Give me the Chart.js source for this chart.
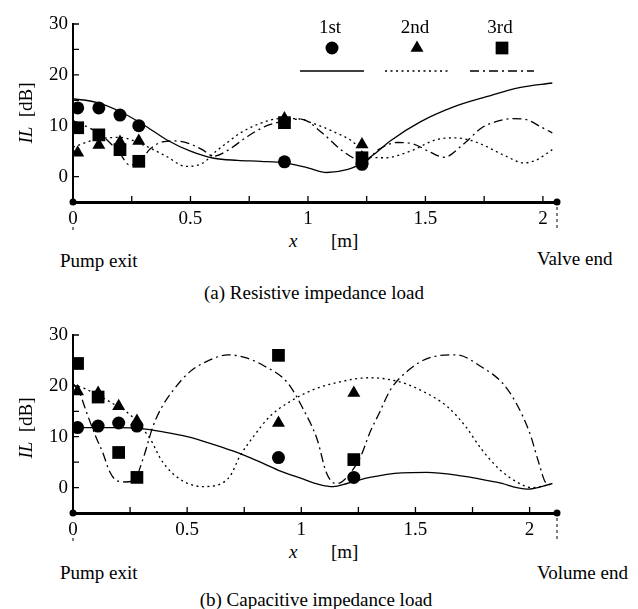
<!DOCTYPE html>
<html>
<head>
<meta charset="utf-8">
<script src="https://cdn.jsdelivr.net/npm/chart.js@4.4.1/dist/chart.umd.min.js"></script>
<style>
body { margin: 0; background: #fff; }
#wrap { position: relative; width: 638px; height: 609px; font-family: 'Liberation Serif', 'Times New Roman', serif; font-size: 19px; color: #000; }
.lab { position: absolute; white-space: nowrap; line-height: 19px; }
.rot { transform: translate(-50%, -50%) rotate(-90deg); }
.mid { transform: translateX(-50%); }
canvas { position: absolute; left: 0; }
</style>
</head>
<body>
<div id="wrap">
<canvas id="chartA" width="638" height="230" style="top:0px"></canvas>
<canvas id="chartB" width="638" height="230" style="top:311px"></canvas>

<div class="lab rot" style="left:25px;top:113px"><i>IL</i>&nbsp;&nbsp;[dB]</div>
<div class="lab" style="left:289px;top:231px"><i>x</i></div>
<div class="lab" style="left:331px;top:231px">[m]</div>
<div class="lab" style="left:60px;top:251px">Pump exit</div>
<div class="lab" style="left:537px;top:249px">Valve end</div>
<div class="lab mid" style="left:314px;top:283px">(a) Resistive impedance load</div>

<div class="lab rot" style="left:25px;top:428px"><i>IL</i>&nbsp;&nbsp;[dB]</div>
<div class="lab" style="left:289px;top:542px"><i>x</i></div>
<div class="lab" style="left:331px;top:542px">[m]</div>
<div class="lab" style="left:60px;top:563px">Pump exit</div>
<div class="lab" style="left:537px;top:563px">Volume end</div>
<div class="lab mid" style="left:316px;top:590px">(b) Capacitive impedance load</div>
</div>

<script>
// measured points (markers), same positions for both loads
var xMeasured = [0.02, 0.11, 0.2, 0.28, 0.9, 1.23];

// (a) resistive impedance load
var resMeas1 = [13.5, 13.5, 12.1, 10.0, 2.9, 2.4];
var resMeas2 = [4.7, 6.2, 6.8, 7.0, 11.4, 6.3];
var resMeas3 = [9.6, 8.2, 5.3, 3.0, 10.6, 3.7];

var resLineX1 = [0, 0.1, 0.2, 0.3, 0.4, 0.5, 0.6, 0.7, 0.8, 0.9, 1.0, 1.08, 1.17, 1.22, 1.29, 1.35, 1.48, 1.62, 1.76, 1.9, 2.04];
var resLine1  = [15.3, 14.6, 12.8, 10.2, 7.2, 5.0, 3.6, 3.2, 3.0, 2.7, 1.7, 0.8, 1.4, 2.4, 4.7, 7.0, 10.8, 13.7, 15.7, 17.5, 18.4];

var resLineX2 = [0, 0.1, 0.2, 0.3, 0.4, 0.48, 0.55, 0.61, 0.66, 0.72, 0.8, 0.88, 0.95, 1.02, 1.12, 1.19, 1.26, 1.33, 1.43, 1.55, 1.63, 1.72, 1.83, 1.92, 1.97, 2.04];
var resLine2  = [5.8, 7.3, 7.7, 6.2, 3.9, 2.0, 2.6, 5.0, 6.8, 8.8, 10.5, 11.4, 11.4, 10.5, 8.6, 6.9, 3.9, 3.7, 4.9, 7.3, 7.6, 6.7, 4.3, 2.7, 3.2, 5.3];

var resLineX3 = [0, 0.05, 0.11, 0.16, 0.2, 0.24, 0.28, 0.33, 0.38, 0.44, 0.5, 0.55, 0.6, 0.66, 0.74, 0.82, 0.9, 0.97, 1.06, 1.14, 1.2, 1.24, 1.3, 1.38, 1.45, 1.52, 1.58, 1.66, 1.74, 1.8, 1.87, 1.93, 1.99, 2.04];
var resLine3  = [11.0, 10.0, 8.5, 6.5, 4.5, 2.3, 2.8, 5.5, 6.8, 7.0, 6.4, 5.3, 4.0, 5.2, 7.8, 9.9, 10.9, 11.3, 8.6, 5.3, 3.5, 3.0, 5.3, 6.7, 6.4, 4.8, 3.8, 6.3, 9.6, 10.8, 11.4, 11.2, 9.8, 8.6];

// (b) capacitive impedance load
var capMeas1 = [11.8, 12.1, 12.7, 12.1, 5.9, 2.0];
var capMeas2 = [18.9, 18.6, 16.0, 13.1, 12.7, 18.6];
var capMeas3 = [24.4, 17.8, 6.9, 2.0, 26.0, 5.5];

var capLineX1 = [0, 0.1, 0.2, 0.3, 0.4, 0.5, 0.6, 0.7, 0.8, 0.9, 1.0, 1.08, 1.14, 1.2, 1.3, 1.44, 1.55, 1.7, 1.86, 1.99, 2.1];
var capLine1  = [11.8, 11.8, 11.8, 11.6, 10.9, 10.0, 8.7, 7.2, 5.4, 3.4, 1.8, 0.6, 0.2, 0.8, 2.0, 2.9, 3.0, 2.3, 1.0, -0.3, 0.8];

var capLineX2 = [0, 0.05, 0.1, 0.16, 0.26, 0.34, 0.39, 0.47, 0.57, 0.64, 0.69, 0.73, 0.79, 0.86, 0.95, 1.05, 1.17, 1.3, 1.43, 1.52, 1.64, 1.72, 1.79, 1.87, 1.94, 2.01, 2.09];
var capLine2  = [20.2, 19.5, 18.4, 16.9, 13.9, 9.4, 5.2, 1.6, 0.2, 0.6, 2.4, 6.1, 10.0, 13.9, 16.9, 19.2, 20.8, 21.6, 20.8, 19.2, 15.9, 12.0, 7.5, 3.5, 1.2, 0.0, 0.6];

var capLineX3 = [0, 0.03, 0.06, 0.1, 0.13, 0.16, 0.19, 0.23, 0.27, 0.31, 0.35, 0.39, 0.44, 0.51, 0.6, 0.68, 0.76, 0.83, 0.94, 1.01, 1.07, 1.11, 1.15, 1.18, 1.26, 1.3, 1.34, 1.39, 1.47, 1.56, 1.68, 1.79, 1.88, 1.94, 2.0, 2.04, 2.07, 2.09];
var capLine3  = [20.5, 18.5, 14.7, 10.0, 6.9, 3.2, 1.4, 1.1, 1.6, 6.1, 12.0, 15.9, 19.2, 22.7, 25.1, 26.1, 25.5, 24.1, 20.6, 15.3, 9.4, 2.9, 0.8, 1.2, 6.1, 10.8, 14.5, 19.2, 23.1, 25.5, 26.1, 23.7, 20.6, 16.7, 10.8, 4.9, 1.0, 0.6];

var legendLabels = ['1st', '2nd', '3rd'];
var markerStyles = ['circle', 'triangle', 'rect'];
var markerRadius = [6.5, 7.5, 9];
var lineDashes = [[], [2, 3.5], [9, 4, 2, 4]];

Chart.defaults.font.family = "'Liberation Serif', 'Times New Roman', serif";
Chart.defaults.font.size = 19;
Chart.defaults.color = '#000';

function pairs(xs, ys) {
  return xs.map(function (x, i) { return { x: x, y: ys[i] }; });
}

function drawMarker(ctx, style, r, x, y) {
  ctx.beginPath();
  if (style === 'circle') {
    ctx.arc(x, y, r, 0, Math.PI * 2);
  } else if (style === 'triangle') {
    ctx.moveTo(x, y - r);
    ctx.lineTo(x + r * 0.866, y + r * 0.5);
    ctx.lineTo(x - r * 0.866, y + r * 0.5);
    ctx.closePath();
  } else {
    var s = r * Math.SQRT1_2;
    ctx.rect(x - s, y - s, 2 * s, 2 * s);
  }
  ctx.fill();
}

// inward ticks, end dots, dashed drops and the legend
var decor = {
  id: 'decor',
  afterDraw: function (chart, args, opts) {
    var ctx = chart.ctx, xs = chart.scales.x, ys = chart.scales.y;
    var bottom = ys.bottom;
    ctx.save();
    ctx.strokeStyle = '#000';
    ctx.fillStyle = '#000';
    ctx.lineWidth = 1.3;
    ctx.beginPath();
    xs.ticks.forEach(function (t) {
      if (t.value <= 0) return;
      var px = xs.getPixelForValue(t.value);
      ctx.moveTo(px, bottom);
      ctx.lineTo(px, bottom - 6);
    });
    ys.ticks.forEach(function (t) {
      if (t.value <= -5) return;
      var py = ys.getPixelForValue(t.value);
      ctx.moveTo(xs.left, py);
      ctx.lineTo(xs.left + 6, py);
    });
    ctx.stroke();

    // ends of the pipe: left drop starts below the "0" label
    [[xs.left, 25], [xs.right, 5]].forEach(function (e) {
      var px = e[0];
      ctx.beginPath();
      ctx.arc(px, bottom, 3.5, 0, Math.PI * 2);
      ctx.fill();
      ctx.beginPath();
      ctx.setLineDash([3, 3]);
      ctx.lineWidth = 1;
      ctx.moveTo(px, bottom + e[1]);
      ctx.lineTo(px, bottom + opts.drop);
      ctx.stroke();
      ctx.setLineDash([]);
    });

    if (opts.legend) {
      ctx.textAlign = 'center';
      ctx.textBaseline = 'middle';
      ctx.font = "19px 'Liberation Serif', 'Times New Roman', serif";
      legendLabels.forEach(function (lab, i) {
        var cx = 332 + 85 * i;
        ctx.fillText(lab, cx - 2, 28);
        drawMarker(ctx, markerStyles[i], markerRadius[i], cx, 48);
        ctx.beginPath();
        ctx.lineWidth = 1.6;
        ctx.setLineDash(lineDashes[i]);
        ctx.moveTo(cx - 32, 71);
        ctx.lineTo(cx + 32, 71);
        ctx.stroke();
        ctx.setLineDash([]);
      });
    }
    ctx.restore();
  }
};

function buildChart(id, xMax, meas, lines, drop, legend) {
  var datasets = [];
  meas.forEach(function (vals, i) {
    datasets.push({
      type: 'scatter',
      label: legendLabels[i],
      data: pairs(xMeasured, vals),
      pointStyle: markerStyles[i],
      pointRadius: markerRadius[i],
      backgroundColor: '#000',
      borderColor: '#000',
      borderWidth: 0,
      order: 0
    });
  });
  lines.forEach(function (ln, i) {
    datasets.push({
      type: 'line',
      label: legendLabels[i] + ' calc',
      data: pairs(ln[0], ln[1]),
      borderColor: '#000',
      borderWidth: 1.3,
      borderDash: lineDashes[i],
      pointRadius: 0,
      fill: false,
      cubicInterpolationMode: 'monotone',
      order: 1
    });
  });

  return new Chart(document.getElementById(id), {
    type: 'scatter',
    data: { datasets: datasets },
    options: {
      responsive: false,
      animation: false,
      devicePixelRatio: 1,
      events: [],
      layout: { padding: { top: 24, right: 81, left: 0, bottom: 0 } },
      plugins: {
        legend: { display: false },
        tooltip: { enabled: false },
        decor: { drop: drop, legend: legend }
      },
      scales: {
        x: {
          type: 'linear',
          min: 0,
          max: xMax,
          afterFit: function (s) { s.height = 28; },
          grid: { display: false, drawTicks: false },
          border: { width: 3, color: '#000' },
          ticks: {
            stepSize: 0.25,
            includeBounds: false,
            autoSkip: false,
            maxRotation: 0,
            padding: 6,
            callback: function (v) { return Math.abs(v * 2 - Math.round(v * 2)) < 1e-6 ? String(v) : ''; }
          }
        },
        y: {
          min: -5,
          max: 30,
          afterFit: function (s) { s.width = 73; },
          grid: { display: false, drawTicks: false },
          border: { width: 2, color: '#000' },
          ticks: {
            stepSize: 5,
            autoSkip: false,
            padding: 5,
            callback: function (v) { return (v >= 0 && v % 10 === 0) ? String(v) : ''; }
          }
        }
      }
    },
    plugins: [decor]
  });
}

buildChart('chartA', 2.06,
  [resMeas1, resMeas2, resMeas3],
  [[resLineX1, resLine1], [resLineX2, resLine2], [resLineX3, resLine3]],
  48, true);

buildChart('chartB', 2.12,
  [capMeas1, capMeas2, capMeas3],
  [[capLineX1, capLine1], [capLineX2, capLine2], [capLineX3, capLine3]],
  50, false);
</script>
</body>
</html>
